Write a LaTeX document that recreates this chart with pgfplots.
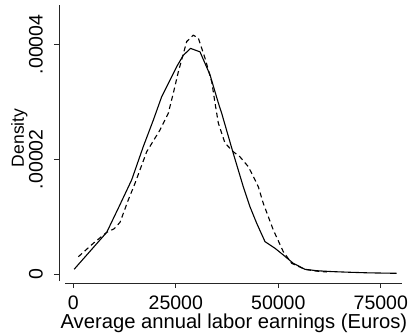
\documentclass[border=0pt]{standalone}
\usepackage{fontspec}
\setmainfont{Liberation Sans}
\usepackage{graphicx}
\usepackage{pgfplots}
\pgfplotsset{compat=1.18}
\begin{document}
\begin{tikzpicture}
\begin{axis}[
  scale only axis, width=343pt, height=278pt,
  xmin=-3490, xmax=80170, ymin=-0.00000157, ymax=0.00004686,
  axis x line*=bottom, axis y line*=left,
  x axis line style={-, shorten <=6pt, draw=black!85, line width=0.9pt},
  y axis line style={-, shorten <=2pt, draw=black!85, line width=0.9pt},
  tick align=outside, major tick length=5pt,
  tick style={draw=black!85, line width=0.9pt},
  xtick={0,25000,50000,75000}, xticklabels={0,25000,50000,75000},
  ytick={0,0.00002,0.00004},
  yticklabels={\rotatebox{90}{0},\rotatebox{90}{.00002},\rotatebox{90}{.00004}},
  scaled y ticks=false, scaled x ticks=false,
  tick label style={font=\fontsize{19.5}{24}\selectfont, inner sep=0pt},
  xticklabel style={anchor=north, yshift=-8pt},
  yticklabel style={anchor=east, xshift=-11pt},
  xlabel={Average annual labor earnings (Euros)},
  ylabel={Density},
  xlabel style={font=\fontsize{20.2}{24}\selectfont, at={(axis description cs:0.51,0)}, anchor=base, yshift=-45pt, inner sep=0pt},
  ylabel style={font=\fontsize{17.5}{20}\selectfont, at={(axis description cs:0,0.522)}, anchor=base, yshift=35pt, inner sep=0pt},
  clip=false,
]
\addplot[black, line width=1.1pt] coordinates {
(200,0.00000082) (8150,0.00000726) (11200,0.0000118) (14240,0.0000164) (17070,0.0000222)
(19510,0.0000268) (21560,0.0000309) (23590,0.0000338) (25200,0.0000361) (26830,0.0000381)
(28600,0.0000393) (30900,0.0000387) (33340,0.0000347) (35370,0.0000298) (36190,0.0000280)
(39020,0.0000210) (41460,0.0000152) (43100,0.0000117) (44730,0.00000883) (46760,0.00000563)
(49200,0.00000448) (51220,0.00000331) (53660,0.00000186) (56510,0.00000082) (59370,0.00000057)
(63000,0.00000042) (67490,0.00000030) (72000,0.00000020) (78880,0.00000012)
};
\addplot[black, line width=1.1pt, dash pattern=on 5pt off 3.5pt] coordinates {
(1220,0.0000030) (4880,0.00000535) (8150,0.00000726) (10000,0.0000079) (11390,0.0000090) (13410,0.0000129)
(15050,0.0000158) (17900,0.0000213) (21150,0.0000251) (23170,0.0000280) (24390,0.0000315)
(25610,0.0000352) (27660,0.0000405) (29270,0.0000416) (30490,0.0000411) (32120,0.0000376)
(33760,0.0000335) (34560,0.0000298) (35370,0.0000263) (37000,0.0000228) (39020,0.0000213)
(40660,0.0000204) (42680,0.0000187) (44320,0.0000164) (45120,0.0000152) (46340,0.0000123)
(48780,0.00000767) (51220,0.00000388) (53270,0.00000186) (56510,0.00000080) (59370,0.00000050)
(61800,0.00000035)
};
\end{axis}
\pgfresetboundingbox
\path[use as bounding box] (-59pt,-50pt) rectangle (352pt,283pt);
\end{tikzpicture}
\end{document}
